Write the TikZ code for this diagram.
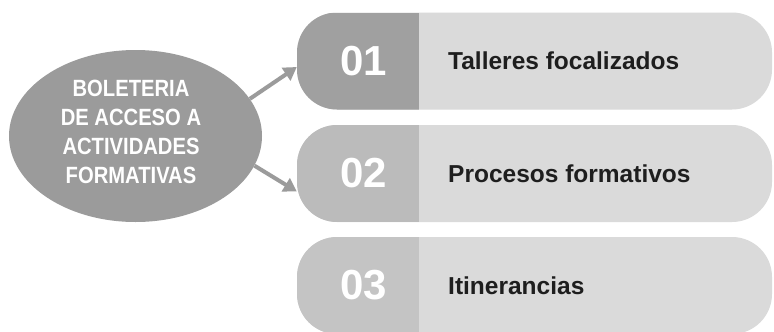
\documentclass[tikz,border=0pt]{standalone}
\usepackage{fontspec}
\setmainfont{Liberation Sans}
\newfontfamily\condfont{Liberation Sans Bold}[FakeStretch=0.86]
\usetikzlibrary{arrows.meta,shapes.geometric,calc}
\definecolor{ellgray}{HTML}{9B9B9B}
\definecolor{darkA}{HTML}{A0A0A0}
\definecolor{darkB}{HTML}{BBBBBB}
\definecolor{darkC}{HTML}{C4C4C4}
\definecolor{lightpill}{HTML}{DADADA}
\definecolor{labelink}{HTML}{1E1E1E}
\tikzset{
  pill/.style={rectangle, rounded corners=40pt, fill=lightpill, minimum width=475pt, minimum height=97pt, inner sep=0pt},
  darkpart/.style={path picture={\fill[#1, sharp corners] (path picture bounding box.south west) rectangle ([xshift=122pt]path picture bounding box.north west);}},
  numtxt/.style={text=white, font=\fontsize{42}{44}\selectfont\bfseries, inner sep=0pt},
  labtxt/.style={text=labelink, font=\fontsize{24.5}{28}\selectfont\bfseries, anchor=west, inner sep=0pt},
  linkarrow/.style={draw=ellgray, line width=4pt, -{Triangle[length=13pt,width=15pt]}, shorten >=0pt}
}
\begin{document}
\begin{tikzpicture}[x=1pt,y=1pt]
\useasboundingbox[fill=white] (0,0) rectangle (774,-332);
% central ellipse
\node[ellipse, fill=ellgray, minimum width=253pt, minimum height=172pt, inner sep=0pt] (e) at (135.5,-136) {};
\node[text=white, align=center, font=\condfont\fontsize{23.5}{29}\selectfont, inner sep=0pt] (et) at (131,-132) {BOLETERIA\\DE ACCESO A\\ACTIVIDADES\\FORMATIVAS};
% pills
\node[pill, darkpart=darkA] (p1) at (534.5,-61) {};
\node[pill, darkpart=darkB] (p2) at (534.5,-173.5) {};
\node[pill, darkpart=darkC] (p3) at (534.5,-285.5) {};
% numbers
\node[numtxt] (n1) at (364,-61) {01};
\node[numtxt] (n2) at (364,-173.5) {02};
\node[numtxt] (n3) at (364,-285.5) {03};
% labels
\node[labtxt] (l1) at (448,-61) {Talleres focalizados};
\node[labtxt] (l2) at (448,-173.5) {Procesos formativos};
\node[labtxt] (l3) at (448,-285.5) {Itinerancias};
% arrows
\draw[linkarrow] (e.18) -- ($(p1.west)+(0,-6)$);
\draw[linkarrow] (e.-14) -- ($(p2.west)+(0,-18)$);
\end{tikzpicture}
\end{document}
